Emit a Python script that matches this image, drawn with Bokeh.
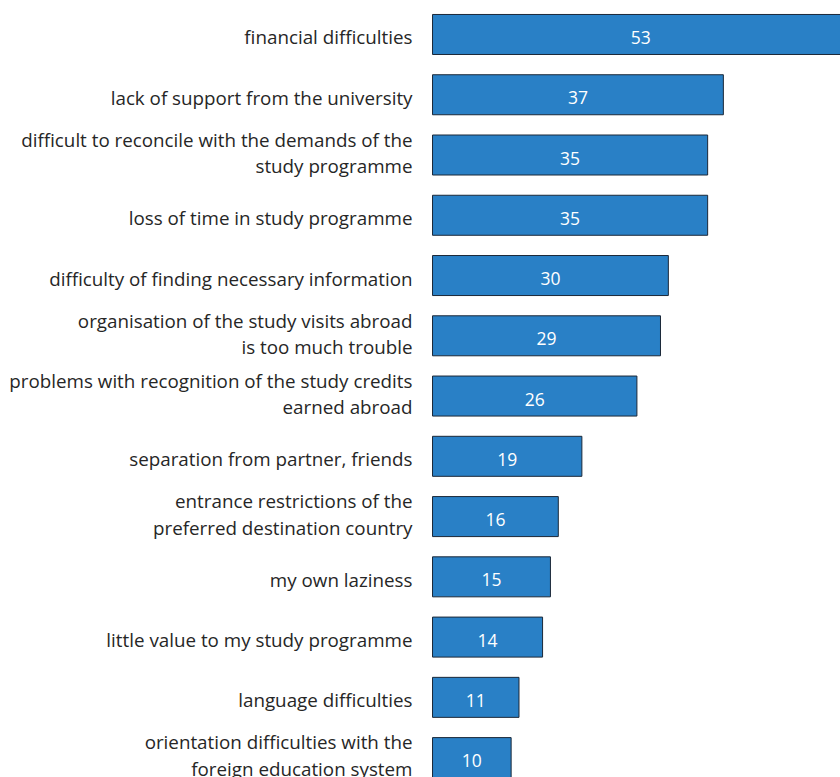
from bokeh.plotting import figure
from bokeh.models import ColumnDataSource, Range1d
from bokeh.core.properties import value
from bokeh.embed import file_html
from bokeh.resources import INLINE

reasons = [
    "financial difficulties",
    "lack of support from the university",
    "difficult to reconcile with the demands of the\nstudy programme",
    "loss of time in study programme",
    "difficulty of finding necessary information",
    "organisation of the study visits abroad\nis too much trouble",
    "problems with recognition of the study credits\nearned abroad",
    "separation from partner, friends",
    "entrance restrictions of the\npreferred destination country",
    "my own laziness",
    "little value to my study programme",
    "language difficulties",
    "orientation difficulties with the\nforeign education system",
]
shares = [53, 37, 35, 35, 30, 29, 26, 19, 16, 15, 14, 11, 10]

pos = list(range(len(reasons)))
src = ColumnDataSource(dict(
    y=pos,
    v=shares,
    mid=[s / 2 for s in shares],
    txt=[str(s) for s in shares],
    reason=reasons,
    lx=[-2.55] * len(reasons),
    # two-line labels sit a little higher than single-line ones
    loff=[-2 if "\n" in r else 3 for r in reasons],
))

p = figure(width=840, height=777, output_backend="svg", toolbar_location=None,
           x_range=Range1d(-54.96, 51.9), y_range=Range1d(12.33, -0.564),
           min_border=0, outline_line_color=None)
p.axis.visible = False
p.grid.visible = False
p.background_fill_color = "white"
p.border_fill_color = "white"

p.hbar(y="y", left=0, right="v", height=0.664, source=src,
       fill_color="#2980C6", line_color="#1b2838", line_width=1)

p.text(x="mid", y="y", text="txt", source=src, text_align="center",
       text_baseline="middle", text_color="white", y_offset=3,
       text_font=value("Open Sans"), text_font_size="17.5px")

p.text(x="lx", y="y", text="reason", source=src, text_align="right",
       text_baseline="middle", text_color="#262626", y_offset="loff",
       text_font=value("Open Sans"), text_font_size="18.8px",
       text_line_height=1.02)

open("out.html", "w").write(file_html(p, INLINE))
